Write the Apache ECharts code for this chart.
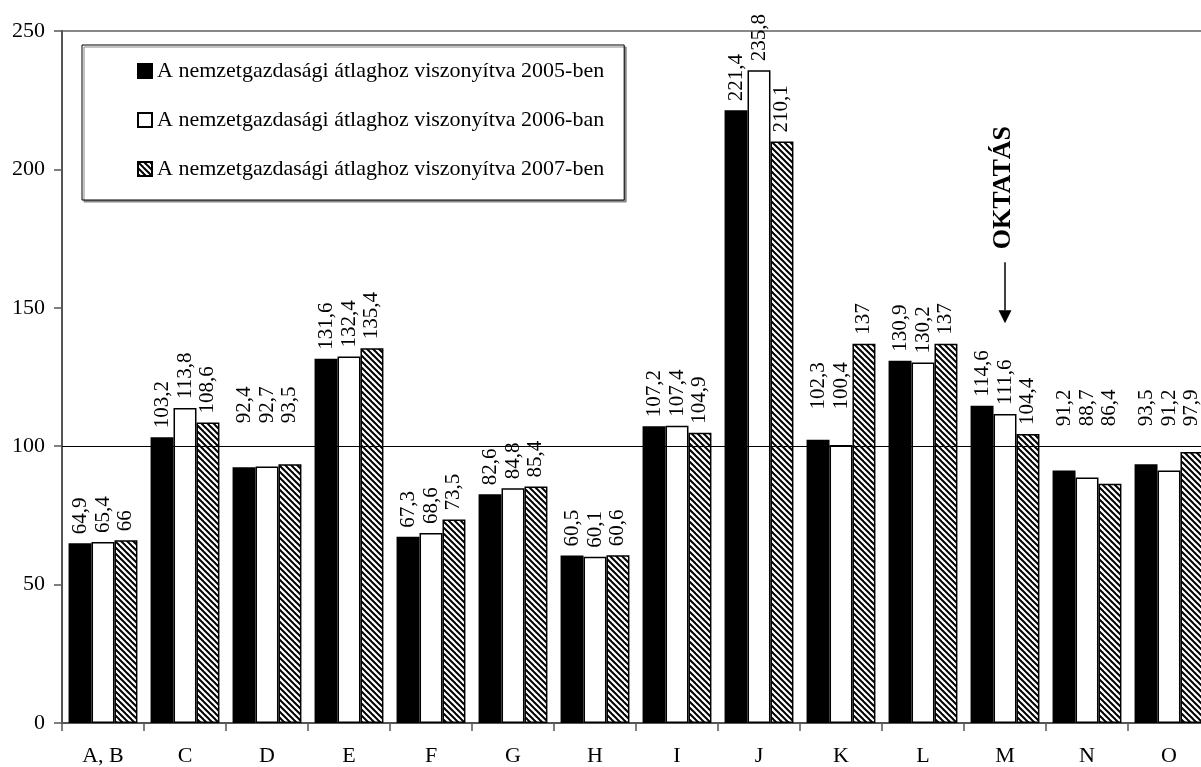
<!DOCTYPE html>
<html>
<head>
<meta charset="utf-8">
<script src="https://cdn.jsdelivr.net/npm/echarts@6/dist/echarts.min.js"></script>
<style>
html,body{margin:0;padding:0;background:#fff;overflow:hidden;width:1201px;height:767px;}
#chart{width:1210px;height:767px;}
</style>
</head>
<body>
<div id="chart"></div>
<script>
// ---- data ----
const categories = ['A, B','C','D','E','F','G','H','I','J','K','L','M','N','O'];
const values2005 = [64.9, 103.2, 92.4, 131.6, 67.3, 82.6, 60.5, 107.2, 221.4, 102.3, 130.9, 114.6, 91.2, 93.5];
const values2006 = [65.4, 113.8, 92.7, 132.4, 68.6, 84.8, 60.1, 107.4, 235.8, 100.4, 130.2, 111.6, 88.7, 91.2];
const values2007 = [66, 108.6, 93.5, 135.4, 73.5, 85.4, 60.6, 104.9, 210.1, 137, 137, 104.4, 86.4, 97.9];
const seriesNames = [
  'A nemzetgazdasági átlaghoz viszonyítva 2005-ben',
  'A nemzetgazdasági átlaghoz viszonyítva 2006-ban',
  'A nemzetgazdasági átlaghoz viszonyítva 2007-ben'
];
const referenceLevel = 100;
const annotationText = 'OKTATÁS';
const annotationCategory = 'M';

// ---- layout / style ----
const FONT = "'Liberation Serif','Times New Roman',serif";
const GRID = {left: 62, right: 0, top: 31, bottom: 44};
const Y_MAX = 250;
const pxPerUnit = (767 - GRID.top - GRID.bottom) / Y_MAX;
// labels lifted above the reference line in these categories (value units)
const labelFloor = {'D': 105, 'K': 110, 'N': 104, 'O': 104};

function hatchPattern() {
  const s = 6;
  const c = document.createElement('canvas');
  c.width = s; c.height = s;
  const g = c.getContext('2d');
  g.fillStyle = '#fff';
  g.fillRect(0, 0, s, s);
  g.strokeStyle = '#000';
  g.lineWidth = 2;
  for (const k of [-s, 0, s]) {
    g.beginPath();
    g.moveTo(-1, k - 1);
    g.lineTo(s + 1, s + k + 1);
    g.stroke();
  }
  return c;
}

function buildData(values) {
  return values.map((v, i) => {
    const f = labelFloor[categories[i]];
    if (f && v < f) {
      // offset is in the rotated label frame: +x points upward on screen
      return {value: v, label: {offset: [(f - v) * pxPerUnit, 0]}};
    }
    return v;
  });
}

const labelCfg = {
  show: true,
  position: 'top',
  distance: 9,
  rotate: 90,
  align: 'left',
  verticalAlign: 'middle',
  fontFamily: FONT,
  fontSize: 21,
  color: '#000',
  formatter: p => String(p.value).replace('.', ',')
};

const fills = ['#000', '#fff', {image: hatchPattern(), repeat: 'repeat'}];
const allValues = [values2005, values2006, values2007];

const barSeries = allValues.map((vals, si) => ({
  name: seriesNames[si],
  type: 'bar',
  barGap: '0%',
  barCategoryGap: '16%',
  z: 3,
  itemStyle: {color: fills[si], borderColor: '#000', borderWidth: 1.5},
  label: labelCfg,
  emphasis: {disabled: true},
  data: buildData(vals)
}));

const helperSeries = {
  type: 'line',
  name: 'helper',
  z: 1,
  silent: true,
  symbol: 'none',
  data: categories.map(() => '-'),
  markLine: {
    silent: true,
    symbol: 'none',
    label: {show: false},
    lineStyle: {color: '#000', width: 1, type: 'solid'},
    data: [{yAxis: referenceLevel}]
  }
};

const annotationSeries = {
  type: 'line',
  name: 'annotation',
  z: 5,
  silent: true,
  symbol: 'none',
  data: categories.map(() => '-'),
  markLine: {
    silent: true,
    symbol: 'none',
    label: {show: false},
    lineStyle: {color: '#000', width: 1.5, type: 'solid'},
    data: [[{coord: [annotationCategory, 166.5]}, {coord: [annotationCategory, 149]}]]
  },
  markPoint: {
    silent: true,
    data: [
      {
        coord: [annotationCategory, 146.8],
        symbol: 'triangle',
        symbolSize: [13, 13],
        symbolRotate: 180,
        itemStyle: {color: '#000'},
        label: {show: false}
      },
      {
        coord: [annotationCategory, 193.4],
        symbol: 'circle',
        symbolSize: 1,
        itemStyle: {color: 'rgba(0,0,0,0)'},
        label: {
          show: true,
          position: 'inside',
          rotate: 90,
          formatter: annotationText,
          fontFamily: FONT,
          fontWeight: 'bold',
          fontSize: 26,
          color: '#000',
          offset: [0, -2]
        }
      }
    ]
  }
};

const chart = echarts.init(document.getElementById('chart'));
chart.setOption({
  animation: false,
  backgroundColor: '#fff',
  grid: Object.assign({show: true, borderColor: '#888', borderWidth: 2, containLabel: false}, GRID),
  legend: {
    data: seriesNames,
    left: 82,
    top: 45,
    orient: 'vertical',
    padding: [15, 20, 20, 55],
    itemWidth: 14,
    itemHeight: 14,
    itemGap: 27,
    icon: 'rect',
    borderColor: '#000',
    borderWidth: 1,
    borderRadius: 0,
    backgroundColor: '#fff',
    shadowColor: '#888',
    shadowOffsetX: 2,
    shadowOffsetY: 2,
    shadowBlur: 0,
    selectedMode: false,
    textStyle: {fontFamily: FONT, fontSize: 22, color: '#000'}
  },
  xAxis: {
    type: 'category',
    data: categories,
    axisLine: {lineStyle: {color: '#555', width: 2}},
    axisTick: {show: true, length: 8, lineStyle: {color: '#555', width: 1.5}},
    axisLabel: {margin: 22, fontFamily: FONT, fontSize: 22, color: '#000'},
    splitLine: {show: false}
  },
  yAxis: {
    type: 'value',
    min: 0,
    max: Y_MAX,
    interval: 50,
    axisLine: {show: true, lineStyle: {color: '#555', width: 2}},
    axisTick: {show: true, length: 8, lineStyle: {color: '#555', width: 1.5}},
    axisLabel: {margin: 17, fontFamily: FONT, fontSize: 22, color: '#000'},
    splitLine: {show: false}
  },
  series: [helperSeries].concat(barSeries, [annotationSeries])
});
</script>
</body>
</html>
